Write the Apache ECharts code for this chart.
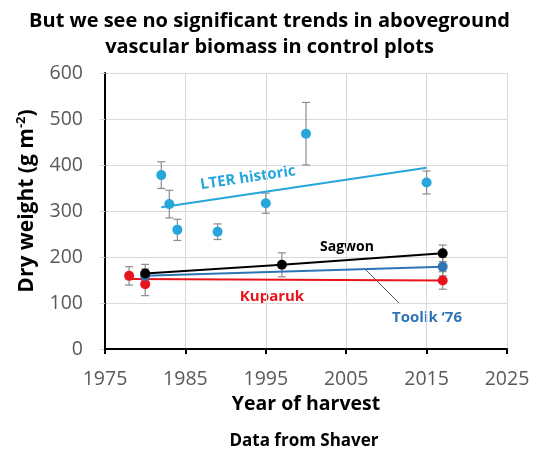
<!DOCTYPE html>
<html>
<head>
<meta charset="utf-8">
<script src="https://cdn.jsdelivr.net/npm/echarts@6/dist/echarts.min.js"></script>
<style>
  html, body { margin: 0; padding: 0; background: #fff; }
  #chart { width: 539px; height: 455px; }
</style>
</head>
<body>
<div id="chart"></div>
<script>
// Harvest years and above-ground vascular biomass (g m-2) per site
const lterYears = [1982, 1983, 1984, 1989, 1995, 2000, 2015];
const lterMass = [378, 315, 259, 255, 317, 468, 362];
const lterErr = [29, 30, 23, 17, 22, 68, 25];
const lterTrendYears = [1982, 2015];
const lterTrendMass = [308, 394];

const sagwonYears = [1980, 1997, 2017];
const sagwonMass = [164, 183, 208];
const sagwonErr = [20, 26, 18];

const toolikYears = [1980, 2017];
const toolikMass = [159, 179];
const toolikErr = [15, 20];

const kuparukYears = [1978, 1980, 2017];
const kuparukMass = [159, 141, 149];
const kuparukErr = [20, 25, 19];
const kuparukTrendYears = [1978, 2017];
const kuparukTrendMass = [152, 149];

const xTicks = [1975, 1985, 1995, 2005, 2015, 2025];
const yTicks = [0, 100, 200, 300, 400, 500, 600];

const COL_LTER = '#27a6dc';
const COL_SAG = '#000000';
const COL_TOOL = '#2e75b6';
const COL_KUP = '#e8141c';
const FONT = '"Open Sans", "Liberation Sans", sans-serif';

const pairs = (xs, ys) => xs.map((x, i) => [x, ys[i]]);
const errData = (xs, ys, es) => xs.map((x, i) => [x, ys[i] - es[i], ys[i] + es[i]]);

function errorSeries(data) {
  return {
    type: 'custom',
    data: data,
    z: 1,
    renderItem: function (params, api) {
      const x = api.value(0);
      const lo = api.coord([x, api.value(1)]);
      const hi = api.coord([x, api.value(2)]);
      const cap = 4;
      const style = { stroke: '#8c8c8c', lineWidth: 1.2 };
      return {
        type: 'group',
        children: [
          { type: 'line', shape: { x1: lo[0], y1: lo[1], x2: hi[0], y2: hi[1] }, style: style },
          { type: 'line', shape: { x1: lo[0] - cap, y1: lo[1], x2: lo[0] + cap, y2: lo[1] }, style: style },
          { type: 'line', shape: { x1: hi[0] - cap, y1: hi[1], x2: hi[0] + cap, y2: hi[1] }, style: style }
        ]
      };
    }
  };
}

function dots(data, color, z) {
  return { type: 'scatter', data: data, symbolSize: 10, itemStyle: { color: color, opacity: 1 }, z: z };
}

function trend(data, color, z) {
  return {
    type: 'line', data: data, showSymbol: false, symbol: 'none',
    lineStyle: { color: color, width: 2 }, z: z, animation: false
  };
}

const chart = echarts.init(document.getElementById('chart'), null, { renderer: 'canvas' });

chart.setOption({
  animation: false,
  backgroundColor: '#ffffff',
  title: {
    text: 'But we see no significant trends in aboveground\nvascular biomass in control plots',
    left: 'center',
    top: 3,
    textStyle: { fontFamily: FONT, fontSize: 20, fontWeight: 'bold', color: '#000', lineHeight: 26 }
  },
  grid: { left: 105, right: 32, top: 73, bottom: 106 },
  xAxis: {
    type: 'value',
    min: xTicks[0], max: xTicks[xTicks.length - 1], interval: 10,
    name: 'Year of harvest',
    nameLocation: 'middle',
    nameGap: 45,
    nameTextStyle: { fontFamily: FONT, fontSize: 19.5, fontWeight: 'bold', color: '#000' },
    axisLine: { lineStyle: { color: '#000', width: 2 } },
    axisTick: { show: true, length: 5, lineStyle: { color: '#000', width: 2 } },
    axisLabel: { fontFamily: FONT, fontSize: 19.5, color: '#595959', margin: 20, formatter: v => String(v) },
    splitLine: { show: true, lineStyle: { color: '#d9d9d9', width: 1 } }
  },
  yAxis: {
    type: 'value',
    min: yTicks[0], max: yTicks[yTicks.length - 1], interval: 100,
    axisLine: { show: true, lineStyle: { color: '#000', width: 2 } },
    axisTick: { show: true, length: 5, lineStyle: { color: '#d9d9d9' } },
    axisLabel: { fontFamily: FONT, fontSize: 19.5, color: '#595959', margin: 22 },
    splitLine: { show: true, lineStyle: { color: '#d9d9d9', width: 1 } }
  },
  graphic: [
    {
      type: 'text', x: 27, y: 201, rotation: Math.PI / 2,
      style: {
        text: '{a|Dry weight (g m}{s|-2}{a|)}',
        textAlign: 'center', textVerticalAlign: 'middle',
        rich: {
          a: { fontFamily: FONT, fontSize: 21, fontWeight: 'bold', fill: '#000' },
          s: { fontFamily: FONT, fontSize: 13, fontWeight: 'bold', fill: '#000', padding: [0, 0, 12, 0] }
        }
      }
    },
    { type: 'text', x: 304, y: 441, style: { text: 'Data from Shaver', fontFamily: FONT, fontSize: 17, fontWeight: 'bold', fill: '#000', textAlign: 'center', textVerticalAlign: 'middle' } },
    { type: 'text', x: 248, y: 178, rotation: 8.5 * Math.PI / 180, style: { text: 'LTER historic', fontFamily: FONT, fontSize: 15, fontWeight: 'bold', fill: COL_LTER, textAlign: 'center', textVerticalAlign: 'middle' } },
    { type: 'text', x: 347, y: 247, style: { text: 'Sagwon', fontFamily: FONT, fontSize: 14, fontWeight: 'bold', fill: '#000', textAlign: 'center', textVerticalAlign: 'middle' } },
    { type: 'text', x: 272, y: 297, style: { text: 'Kuparuk', fontFamily: FONT, fontSize: 15, fontWeight: 'bold', fill: COL_KUP, textAlign: 'center', textVerticalAlign: 'middle' } },
    { type: 'text', x: 427, y: 318, style: { text: 'Toolik \u201876', fontFamily: FONT, fontSize: 15, fontWeight: 'bold', fill: COL_TOOL, textAlign: 'center', textVerticalAlign: 'middle' } },
    { type: 'line', shape: { x1: 366, y1: 270, x2: 399, y2: 303 }, style: { stroke: '#44546a', lineWidth: 1 } }
  ],
  series: [
    errorSeries(errData(lterYears, lterMass, lterErr)),
    errorSeries(errData(sagwonYears, sagwonMass, sagwonErr)),
    errorSeries(errData(toolikYears, toolikMass, toolikErr)),
    errorSeries(errData(kuparukYears, kuparukMass, kuparukErr)),
    trend(pairs(lterTrendYears, lterTrendMass), COL_LTER, 2),
    trend(pairs(kuparukTrendYears, kuparukTrendMass), COL_KUP, 2),
    trend(pairs(toolikYears, toolikMass), COL_TOOL, 3),
    trend(pairs(sagwonYears, sagwonMass), COL_SAG, 4),
    dots(pairs(lterYears, lterMass), COL_LTER, 5),
    dots(pairs(kuparukYears, kuparukMass), COL_KUP, 5),
    dots(pairs(toolikYears, toolikMass), COL_TOOL, 6),
    dots(pairs(sagwonYears, sagwonMass), COL_SAG, 7)
  ]
});
</script>
</body>
</html>
